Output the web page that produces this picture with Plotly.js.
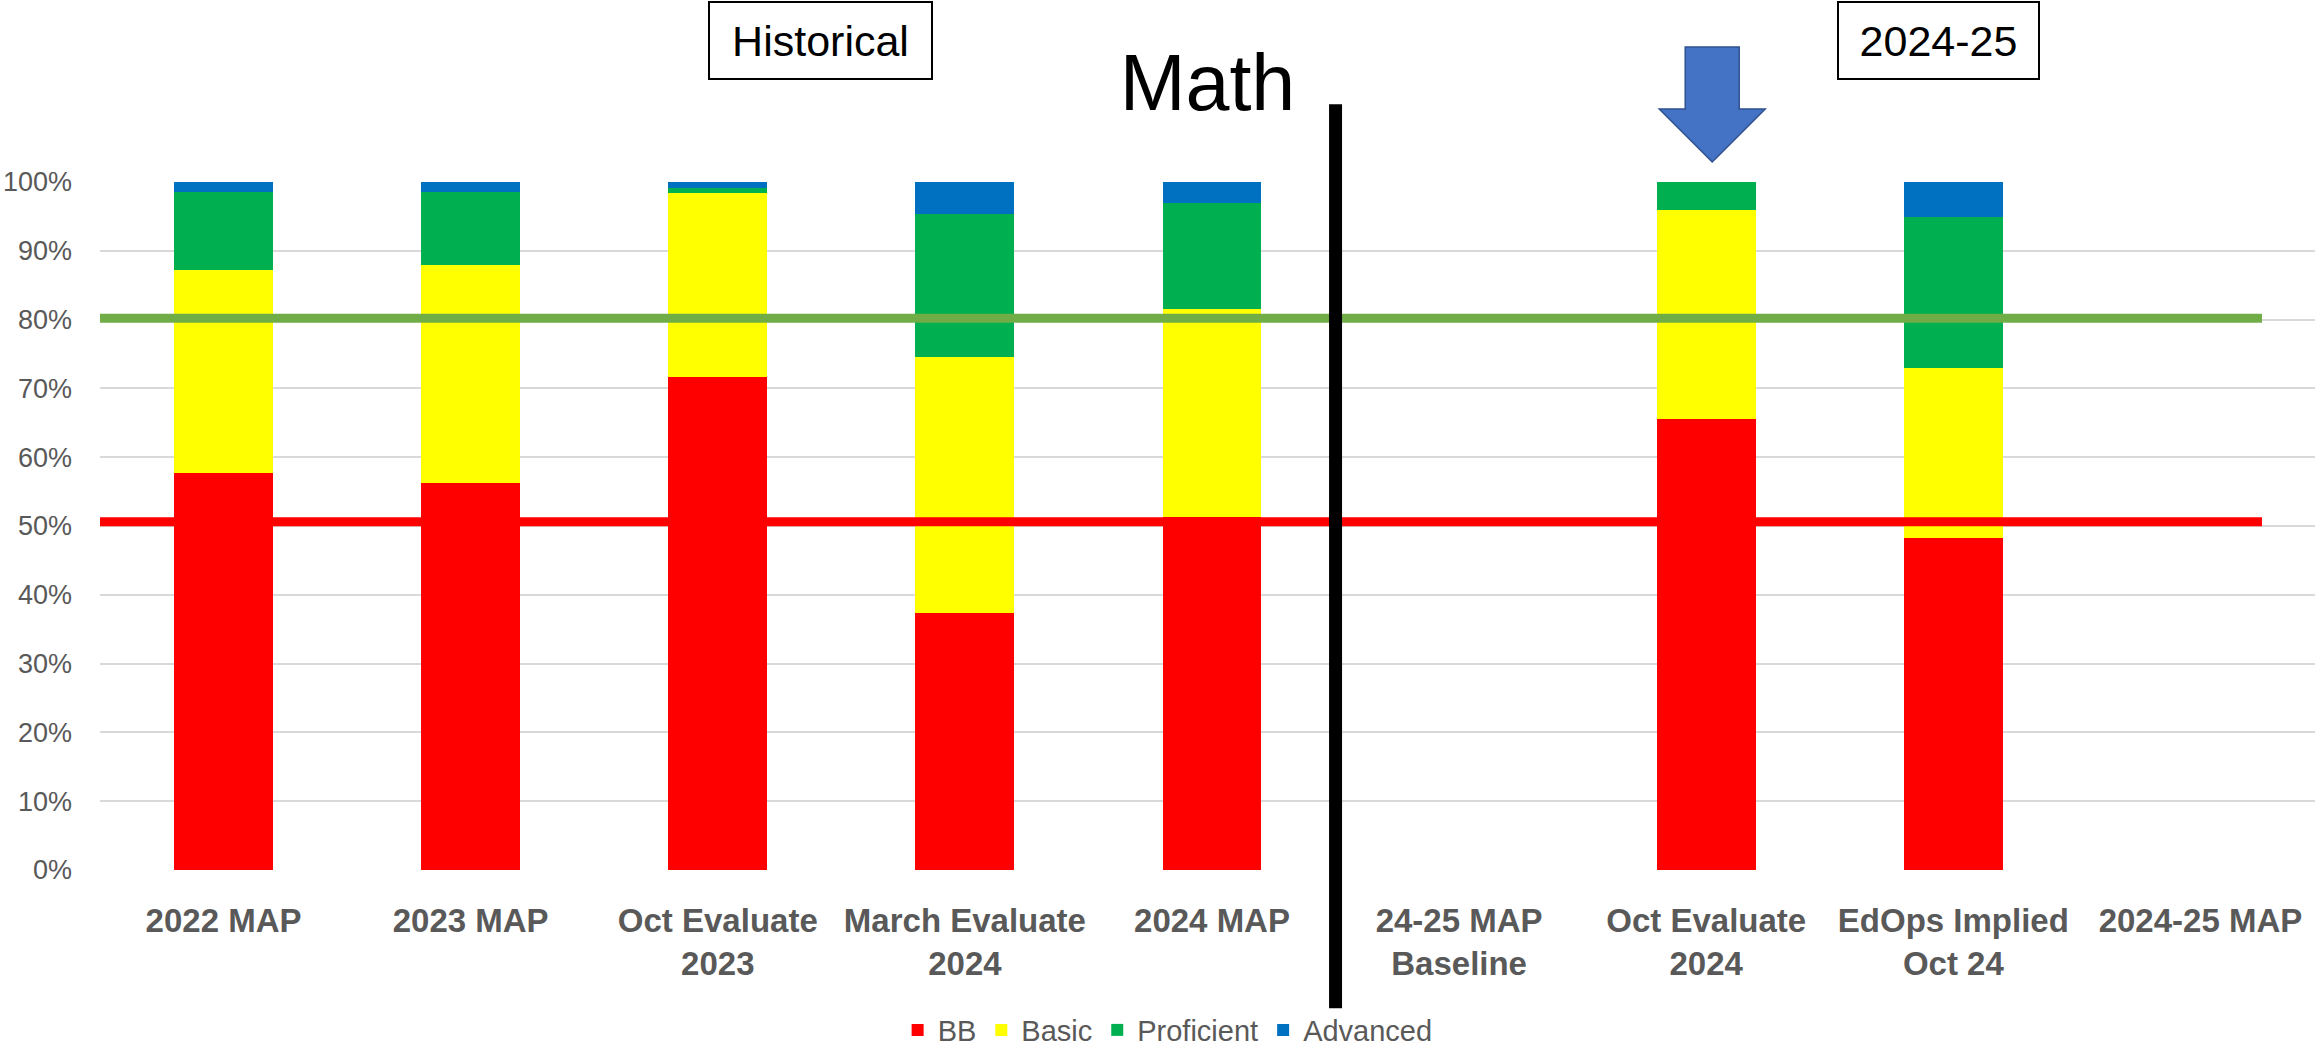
<!DOCTYPE html>
<html>
<head>
<meta charset="utf-8">
<script src="https://cdn.plot.ly/plotly-3.0.1.min.js"></script>
<style>
  html, body { margin: 0; padding: 0; background: #ffffff; }
  #chart { width: 2315px; height: 1047px; }
</style>
</head>
<body>
<div id="chart"></div>
<script>
// ---- Data (percent of students per level) ----
const categories = [
  "2022 MAP",
  "2023 MAP",
  "Oct Evaluate<br>2023",
  "March Evaluate<br>2024",
  "2024 MAP",
  "24-25 MAP<br>Baseline",
  "Oct Evaluate<br>2024",
  "EdOps Implied<br>Oct 24",
  "2024-25 MAP"
];
const bb         = [57.7, 56.3, 71.7, 37.3, 51.3, null, 65.5, 48.3, null];
const basic      = [29.5, 31.7, 26.7, 37.3, 30.2, null, 30.5, 24.6, null];
const proficient = [11.4, 10.6,  0.8, 20.7, 15.4, null,  4.0, 22.0, null];
const advanced   = [ 1.4,  1.4,  0.8,  4.7,  3.1, null,  0.0,  5.1, null];

const seriesNames  = ["BB", "Basic", "Proficient", "Advanced"];
const seriesColors = ["#FF0000", "#FFFF00", "#00B050", "#0070C0"];
const yTickVals = [0, 10, 20, 30, 40, 50, 60, 70, 80, 90, 100];
const yTickText = ["0%", "10%", "20%", "30%", "40%", "50%", "60%", "70%", "80%", "90%", "100%"];

// reference lines (percent)
const redThreshold = 50.6;
const greenThreshold = 80.2;

const FONT = "'Liberation Sans', Arial, sans-serif";

const seriesValues = [bb, basic, proficient, advanced];
const traces = seriesValues.map((vals, i) => ({
  type: "bar",
  name: seriesNames[i],
  x: categories,
  y: vals,
  marker: { color: seriesColors[i], line: { width: 0 } },
  hoverinfo: "x+y+name"
}));

const dividerIndex = 4.5;         // between "2024 MAP" and "24-25 MAP Baseline"
const arrowIndex = categories.indexOf("Oct Evaluate<br>2024");

const layout = {
  width: 2315,
  height: 1047,
  paper_bgcolor: "#ffffff",
  plot_bgcolor: "#ffffff",
  font: { family: FONT, color: "#595959" },
  margin: { l: 100, r: 0, t: 182, b: 177, pad: 0, autoexpand: false },
  barmode: "stack",
  bargap: 0.6,
  showlegend: true,
  title: {
    text: "Math",
    font: { family: FONT, size: 79, color: "#000000" },
    x: 0.5, xref: "paper", xanchor: "center",
    y: 0.9217, yref: "container", yanchor: "middle"
  },
  xaxis: {
    type: "category",
    range: [-0.5, 8.4636],
    automargin: false,
    showgrid: false,
    zeroline: false,
    showline: false,
    ticks: "",
    ticklabelstandoff: 28,
    tickfont: { family: FONT, size: 33, color: "#595959", weight: "bold" },
    fixedrange: true
  },
  yaxis: {
    range: [0, 100],
    automargin: false,
    tickvals: yTickVals,
    ticktext: yTickText,
    showgrid: true,
    gridcolor: "#D9D9D9",
    gridwidth: 2,
    zeroline: false,
    showline: false,
    ticks: "",
    ticklabelstandoff: 27,
    tickfont: { family: FONT, size: 27, color: "#595959" },
    fixedrange: true
  },
  legend: {
    orientation: "h",
    traceorder: "normal",
    x: 0.482, xanchor: "center",
    yref: "container",
    y: 0.0162, yanchor: "middle",
    font: { family: FONT, size: 29, color: "#595959" },
    itemwidth: 30,
    bgcolor: "rgba(0,0,0,0)"
  },
  shapes: [
    { type: "line", layer: "above", xref: "x", yref: "y",
      x0: -0.532, x1: 8.249, y0: greenThreshold, y1: greenThreshold,
      line: { color: "#70AD47", width: 9 } },
    { type: "line", layer: "above", xref: "x", yref: "y",
      x0: -0.532, x1: 8.249, y0: redThreshold, y1: redThreshold,
      line: { color: "#FF0000", width: 9 } },
    { type: "line", layer: "above", xref: "x", yref: "paper",
      x0: dividerIndex, x1: dividerIndex, y0: -0.201, y1: 1.113,
      line: { color: "#000000", width: 13 } },
    { type: "path", layer: "above", xref: "x", yref: "paper",
      xsizemode: "pixel", ysizemode: "pixel",
      xanchor: arrowIndex, yanchor: 1,
      path: "M -21,135 L 33,135 L 33,73 L 59,73 L 6,20 L -47,73 L -21,73 Z",
      fillcolor: "#4472C4",
      line: { color: "#2F528F", width: 1.5 } }
  ],
  annotations: [
    { text: "Historical", xref: "x", yref: "paper", x: 2.416, y: 1.2052,
      xanchor: "center", yanchor: "middle", showarrow: false,
      width: 221, height: 75, align: "center", valign: "middle",
      bgcolor: "#ffffff", bordercolor: "#000000", borderwidth: 2, borderpad: 0,
      font: { family: FONT, size: 43, color: "#000000" } },
    { text: "2024-25", xref: "x", yref: "paper", x: 6.940, y: 1.2052,
      xanchor: "center", yanchor: "middle", showarrow: false,
      width: 199, height: 75, align: "center", valign: "middle",
      bgcolor: "#ffffff", bordercolor: "#000000", borderwidth: 2, borderpad: 0,
      font: { family: FONT, size: 43, color: "#000000" } }
  ]
};

Plotly.newPlot("chart", traces, layout, { displayModeBar: false, staticPlot: true });
</script>
</body>
</html>
